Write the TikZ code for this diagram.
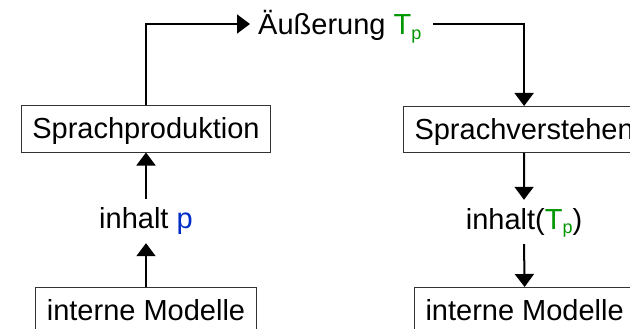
\documentclass[tikz,border=0pt]{standalone}
\usepackage{fontspec}
\setmainfont{Liberation Sans}
\usetikzlibrary{arrows.meta}
\definecolor{tgreen}{RGB}{0,150,0}
\definecolor{pblue}{RGB}{0,45,200}
\newcommand\subsc[1]{\raisebox{-5pt}{\fontsize{18}{18}\selectfont #1}}
\begin{document}
\begin{tikzpicture}[x=1pt,y=1pt,
  font=\fontsize{29}{34}\selectfont,
  box/.style={draw=black!80,line width=1pt,fill=white,minimum height=46pt,
    inner xsep=11pt,inner ysep=0pt,text height=20pt,text depth=0pt},
  lab/.style={inner xsep=2pt,inner ysep=9pt,text height=20pt,text depth=6pt},
  conn/.style={line width=2pt,-{Triangle[length=13pt,width=19pt]}},
  plain/.style={line width=2pt}]
\clip (0,0) rectangle (630,-329);
\node[box] (sp) at (146,-129) {Sprachproduktion};
\node[box,anchor=north west] (sv) at (403,-106) {Sprachverstehen};
\node[box,anchor=north] (iml) at (146,-287) {interne Modelle};
\node[box,anchor=north west] (imr) at (414,-287) {interne Modelle};
\node[lab,anchor=base] (ip) at (146,-228) {inhalt \textcolor{pblue}{p}};
\node[lab,anchor=base] (it) at (524,-229) {inhalt(\textcolor{tgreen}{T\subsc{p}})};
\node[anchor=base west,inner sep=0pt] (au) at (258,-35) {Äußerung \textcolor{tgreen}{T\subsc{p}}};
\coordinate (ain) at (250,-24);
\coordinate (aout) at (433,-24);
\draw[conn] (sp.north) |- (ain);
\draw[conn] (aout) -| (sv.north);
\draw[conn] (iml.north) -- (ip.south);
\draw[conn] (ip.north) -- (sp.south);
\draw[conn] (sv.south) -- (it.north);
\draw[conn] (it.south) -- (imr.north);
\end{tikzpicture}
\end{document}
